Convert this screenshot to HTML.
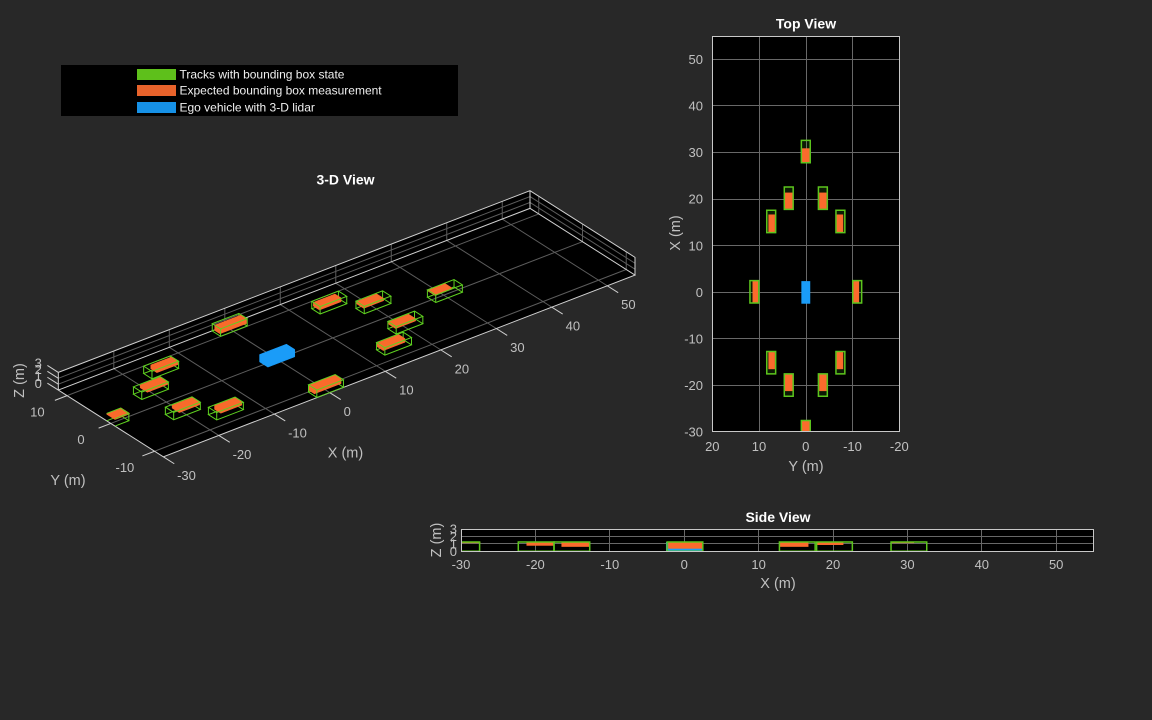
<!DOCTYPE html>
<html><head><meta charset="utf-8"><style>
html,body{margin:0;padding:0;background:#282828;}
svg{display:block}
text{font-family:"Liberation Sans",Arial,sans-serif;}
.t{fill:#c0c0c0;font-size:13px}
.lab{fill:#c0c0c0;font-size:14.5px}
.ttl{fill:#ffffff;font-size:14px;font-weight:bold}
.lg{fill:#f0f0f0;font-size:12px}
path,rect,line{vector-effect:non-scaling-stroke}
.g{fill:none;stroke:#5fd120;stroke-width:1}
.o{fill:#f96a2b;stroke:#f96a2b;stroke-width:0.5}
.gf{fill:rgba(95,200,30,0.13);stroke:none}
.gs{fill:none;stroke:#5cc51d;stroke-width:1.5}
.of{fill:#fb6b2c;stroke:none}
</style></head><body>
<svg width="1152" height="720" viewBox="0 0 1152 720" xmlns="http://www.w3.org/2000/svg">
<defs>
<clipPath id="tvc"><rect x="712" y="36" width="188" height="396"/></clipPath>
<clipPath id="svc"><rect x="461" y="529" width="633" height="23"/></clipPath>
</defs>
<rect width="1152" height="720" fill="#282828"/>

<!-- Legend -->
<rect x="61" y="65" width="397" height="51" fill="#000"/>
<rect x="137" y="69" width="39" height="11" fill="#5ec01b"/>
<rect x="137" y="85" width="39" height="11" fill="#e8632b"/>
<rect x="137" y="102" width="39" height="11" fill="#1691e6"/>
<text class="lg" x="179.5" y="78.5">Tracks with bounding box state</text>
<text class="lg" x="179.5" y="94.5">Expected bounding box measurement</text>
<text class="lg" x="179.5" y="111.5">Ego vehicle with 3-D lidar</text>

<!-- 3-D View -->
<text class="ttl" x="345.5" y="184.5" text-anchor="middle">3-D View</text>
<g transform="matrix(5.549,-2.138,-4.375,-2.779,277.3,359.3)">
<path d="M-30 -12H55V12H-30Z" fill="#000"/>
<path d="M-30 12H55L58.126 15.9645H-26.874Z" fill="#000"/>
<path d="M55 -12V12L58.126 15.9645V-8.0355Z" fill="#000"/>
<path fill="none" stroke="#5c5c5c" stroke-width="1" d="M-20 -12V12M-10 -12V12M0 -12V12M10 -12V12M20 -12V12M30 -12V12M40 -12V12M50 -12V12M-30 -10H55M-30 0H55M-30 10H55M-20 12l3.126 3.9645M-10 12l3.126 3.9645M0 12l3.126 3.9645M10 12l3.126 3.9645M20 12l3.126 3.9645M30 12l3.126 3.9645M40 12l3.126 3.9645M50 12l3.126 3.9645M-28.958 13.3215H56.042M-27.916 14.643H57.084M55 -10l3.126 3.9645M55 0l3.126 3.9645M55 10l3.126 3.9645M56.042 -10.6785V13.3215M57.084 -9.357V14.643"/>
<path fill="none" stroke="#d0d0d0" stroke-width="1" d="M-30 12V-12H55V12H-30M55 12l3.126 3.9645M-30 12l3.126 3.9645H58.126V-8.0355L55 -12M-30 -12v-2.5M-20 -12v-2.5M-10 -12v-2.5M0 -12v-2.5M10 -12v-2.5M20 -12v-2.5M30 -12v-2.5M40 -12v-2.5M50 -12v-2.5M-30 -10h-2.2M-30 0h-2.2M-30 10h-2.2M-30 12v2.5M-28.958 13.3215v2.5M-27.916 14.643v2.5M-26.874 15.9645v2.5"/>

<!-- car 1 -->
<path class="g" d="M27.8 -0.95h4.8v1.9h-4.8ZM32.6 0.95l1.3025 1.652"/>
<path class="o" transform="translate(1.1462,1.4537)" d="M27.8 -0.8h3.1l0.1563 0.1983v1.75h-3.1l-0.1563 -0.1983Z"/>
<rect class="g" transform="translate(1.3025,1.652)" x="27.8" y="-0.95" width="4.8" height="1.9"/>
<path class="g" d="M27.8 -0.95l1.3025 1.652M32.6 -0.95l1.3025 1.652M27.8 0.95l1.3025 1.652"/>
<!-- car 2 -->
<path class="g" d="M17.8 2.7h4.8v1.9h-4.8ZM22.6 4.6l1.3025 1.652"/>
<path class="o" transform="translate(0.8857,1.1233)" d="M17.8 2.83h3.6l0.4168 0.5287v1.62h-3.6l-0.4168 -0.5287Z"/>
<rect class="g" transform="translate(1.3025,1.652)" x="17.8" y="2.7" width="4.8" height="1.9"/>
<path class="g" d="M17.8 2.7l1.3025 1.652M22.6 2.7l1.3025 1.652M17.8 4.6l1.3025 1.652"/>
<!-- car 4 -->
<path class="g" d="M12.8 6.45h4.8v1.9h-4.8ZM17.6 8.35l1.3025 1.652"/>
<path class="o" transform="translate(0.6252,0.7929)" d="M12.8 6.6h3.9l0.6773 0.8591v1.4h-3.9l-0.6773 -0.8591Z"/>
<rect class="g" transform="translate(1.3025,1.652)" x="12.8" y="6.45" width="4.8" height="1.9"/>
<path class="g" d="M12.8 6.45l1.3025 1.652M17.6 6.45l1.3025 1.652M12.8 8.35l1.3025 1.652"/>
<!-- car 3 -->
<path class="g" d="M17.8 -4.6h4.8v1.9h-4.8ZM22.6 -2.7l1.3025 1.652"/>
<path class="o" transform="translate(0.8857,1.1233)" d="M17.8 -4.47h3.6l0.4168 0.5287v1.62h-3.6l-0.4168 -0.5287Z"/>
<rect class="g" transform="translate(1.3025,1.652)" x="17.8" y="-4.6" width="4.8" height="1.9"/>
<path class="g" d="M17.8 -4.6l1.3025 1.652M22.6 -4.6l1.3025 1.652M17.8 -2.7l1.3025 1.652"/>
<!-- car 6 -->
<path class="g" d="M-2.3 10.05h4.8v1.9h-4.8ZM2.5 11.95l1.3025 1.652"/>
<path class="o" transform="translate(0.3647,0.4625)" d="M-2.3 10.2h4.8l0.9378 1.1895v1.2h-4.8l-0.9378 -1.1895Z"/>
<rect class="g" transform="translate(1.3025,1.652)" x="-2.3" y="10.05" width="4.8" height="1.9"/>
<path class="g" d="M-2.3 10.05l1.3025 1.652M2.5 10.05l1.3025 1.652M-2.3 11.95l1.3025 1.652"/>
<!-- car 5 -->
<path class="g" d="M12.8 -8.35h4.8v1.9h-4.8ZM17.6 -6.45l1.3025 1.652"/>
<path class="o" transform="translate(0.6252,0.7929)" d="M12.8 -8.0h3.9l0.6773 0.8591v1.42h-3.9l-0.6773 -0.8591Z"/>
<rect class="g" transform="translate(1.3025,1.652)" x="12.8" y="-8.35" width="4.8" height="1.9"/>
<path class="g" d="M12.8 -8.35l1.3025 1.652M17.6 -8.35l1.3025 1.652M12.8 -6.45l1.3025 1.652"/>
<!-- ego -->
<path fill="#1a9cf8" stroke="#1a9cf8" stroke-width="0.5" d="M-2.45 -0.95h4.85l1.3025 1.652v1.9h-4.85l-1.3025 -1.652Z"/>
<!-- car 9 -->
<path class="g" d="M-17.5 6.45h4.8v1.9h-4.8ZM-12.7 8.35l1.3025 1.652"/>
<path class="o" transform="translate(0.6252,0.7929)" d="M-16.5 6.6h3.8l0.6773 0.8591v1.4h-3.8l-0.6773 -0.8591Z"/>
<rect class="g" transform="translate(1.3025,1.652)" x="-17.5" y="6.45" width="4.8" height="1.9"/>
<path class="g" d="M-17.5 6.45l1.3025 1.652M-12.7 6.45l1.3025 1.652M-17.5 8.35l1.3025 1.652"/>
<!-- car 7 -->
<path class="g" d="M-2.3 -11.95h4.8v1.9h-4.8ZM2.5 -10.05l1.3025 1.652"/>
<path class="o" transform="translate(0.3647,0.4625)" d="M-2.3 -11.4h4.8l0.9378 1.1895v1.3h-4.8l-0.9378 -1.1895Z"/>
<rect class="g" transform="translate(1.3025,1.652)" x="-2.3" y="-11.95" width="4.8" height="1.9"/>
<path class="g" d="M-2.3 -11.95l1.3025 1.652M2.5 -11.95l1.3025 1.652M-2.3 -10.05l1.3025 1.652"/>
<!-- car 11 -->
<path class="g" d="M-22.3 2.7h4.8v1.9h-4.8ZM-17.5 4.6l1.3025 1.652"/>
<path class="o" transform="translate(0.7815,0.9911)" d="M-21.2 2.83h3.7l0.521 0.6609v1.62h-3.7l-0.521 -0.6609Z"/>
<rect class="g" transform="translate(1.3025,1.652)" x="-22.3" y="2.7" width="4.8" height="1.9"/>
<path class="g" d="M-22.3 2.7l1.3025 1.652M-17.5 2.7l1.3025 1.652M-22.3 4.6l1.3025 1.652"/>
<!-- car 10 -->
<path class="g" d="M-17.5 -8.35h4.8v1.9h-4.8ZM-12.7 -6.45l1.3025 1.652"/>
<path class="o" transform="translate(0.6252,0.7929)" d="M-16.5 -8.0h3.8l0.6773 0.8591v1.42h-3.8l-0.6773 -0.8591Z"/>
<rect class="g" transform="translate(1.3025,1.652)" x="-17.5" y="-8.35" width="4.8" height="1.9"/>
<path class="g" d="M-17.5 -8.35l1.3025 1.652M-12.7 -8.35l1.3025 1.652M-17.5 -6.45l1.3025 1.652"/>
<!-- car 12 -->
<path class="g" d="M-22.3 -4.6h4.8v1.9h-4.8ZM-17.5 -2.7l1.3025 1.652"/>
<path class="o" transform="translate(0.7815,0.9911)" d="M-21.2 -4.47h3.7l0.521 0.6609v1.62h-3.7l-0.521 -0.6609Z"/>
<rect class="g" transform="translate(1.3025,1.652)" x="-22.3" y="-4.6" width="4.8" height="1.9"/>
<path class="g" d="M-22.3 -4.6l1.3025 1.652M-17.5 -4.6l1.3025 1.652M-22.3 -2.7l1.3025 1.652"/>
<!-- car 13 (clipped) -->
<path class="g" d="M-30 -0.95H-27.5V0.95H-30M-27.5 0.95l1.3025 1.652"/>
<path class="o" transform="translate(1.1462,1.4537)" d="M-30 -0.95h2.6l0.1563 0.1983v1.9h-2.6l-0.1563 -0.1983Z"/>
<path class="g" transform="translate(1.3025,1.652)" d="M-30 -0.95H-27.5V0.95H-30"/>
<path class="g" d="M-27.5 -0.95l1.3025 1.652"/>
</g>
<!-- 3D tick labels -->
<text class="t" x="177.1" y="480">-30</text>
<text class="t" x="232.6" y="458.8">-20</text>
<text class="t" x="288.1" y="437.4">-10</text>
<text class="t" x="343.6" y="416">0</text>
<text class="t" x="399.1" y="394.7">10</text>
<text class="t" x="454.6" y="373.3">20</text>
<text class="t" x="510.1" y="352">30</text>
<text class="t" x="565.6" y="330.5">40</text>
<text class="t" x="621.1" y="309.2">50</text>
<text class="t" x="37.4" y="416.6" text-anchor="middle">10</text>
<text class="t" x="81" y="444.2" text-anchor="middle">0</text>
<text class="t" x="124.9" y="472" text-anchor="middle">-10</text>
<text class="t" x="38.3" y="367.3" text-anchor="middle">3</text>
<text class="t" x="38.3" y="374.2" text-anchor="middle">2</text>
<text class="t" x="38.3" y="381.1" text-anchor="middle">1</text>
<text class="t" x="38.3" y="388" text-anchor="middle">0</text>
<text class="lab" x="345.5" y="457.5" text-anchor="middle">X (m)</text>
<text class="lab" x="68" y="485" text-anchor="middle">Y (m)</text>
<text class="lab" transform="translate(24,380.5) rotate(-90)" text-anchor="middle">Z (m)</text>

<!-- Top View -->
<text class="ttl" x="806" y="28.5" text-anchor="middle">Top View</text>
<rect x="712.5" y="36.5" width="187" height="395" fill="#000"/>
<path fill="none" stroke="#686868" stroke-width="1" d="M759.5 36.5V431.5M806.5 36.5V431.5M852.5 36.5V431.5M712.5 59.5H899.5M712.5 105.5H899.5M712.5 152.5H899.5M712.5 199.5H899.5M712.5 245.5H899.5M712.5 292.5H899.5M712.5 338.5H899.5M712.5 385.5H899.5"/>
<g clip-path="url(#tvc)"><g transform="matrix(0,-4.66,-4.675,0,805.8,292.3)">
<rect class="gf" x="27.8" y="-0.95" width="4.8" height="1.9"/>
<rect class="gf" x="17.8" y="2.7" width="4.8" height="1.9"/>
<rect class="gf" x="17.8" y="-4.6" width="4.8" height="1.9"/>
<rect class="gf" x="12.8" y="6.45" width="4.8" height="1.9"/>
<rect class="gf" x="12.8" y="-8.35" width="4.8" height="1.9"/>
<rect class="gf" x="-2.3" y="10.05" width="4.8" height="1.9"/>
<rect class="gf" x="-2.3" y="-11.95" width="4.8" height="1.9"/>
<rect class="gf" x="-17.5" y="6.45" width="4.8" height="1.9"/>
<rect class="gf" x="-17.5" y="-8.35" width="4.8" height="1.9"/>
<rect class="gf" x="-22.3" y="2.7" width="4.8" height="1.9"/>
<rect class="gf" x="-22.3" y="-4.6" width="4.8" height="1.9"/>
<rect class="gf" x="-32.3" y="-0.95" width="4.8" height="1.9"/>
<rect fill="#1a9cf8" x="-2.45" y="-0.95" width="4.85" height="1.9"/>
<rect class="of" x="27.8" y="-0.8" width="3.1" height="1.75"/>
<rect class="of" x="17.8" y="2.83" width="3.6" height="1.62"/>
<rect class="of" x="17.8" y="-4.47" width="3.6" height="1.62"/>
<rect class="of" x="12.8" y="6.6" width="3.9" height="1.4"/>
<rect class="of" x="12.8" y="-8.0" width="3.9" height="1.42"/>
<rect class="of" x="-2.3" y="10.2" width="4.8" height="1.2"/>
<rect class="of" x="-2.3" y="-11.4" width="4.8" height="1.3"/>
<rect class="of" x="-16.5" y="6.6" width="3.8" height="1.4"/>
<rect class="of" x="-16.5" y="-8.0" width="3.8" height="1.42"/>
<rect class="of" x="-21.2" y="2.83" width="3.7" height="1.62"/>
<rect class="of" x="-21.2" y="-4.47" width="3.7" height="1.62"/>
<rect class="of" x="-30" y="-0.95" width="2.6" height="1.9"/>
<rect class="gs" x="27.8" y="-0.95" width="4.8" height="1.9"/>
<rect class="gs" x="17.8" y="2.7" width="4.8" height="1.9"/>
<rect class="gs" x="17.8" y="-4.6" width="4.8" height="1.9"/>
<rect class="gs" x="12.8" y="6.45" width="4.8" height="1.9"/>
<rect class="gs" x="12.8" y="-8.35" width="4.8" height="1.9"/>
<rect class="gs" x="-2.3" y="10.05" width="4.8" height="1.9"/>
<rect class="gs" x="-2.3" y="-11.95" width="4.8" height="1.9"/>
<rect class="gs" x="-17.5" y="6.45" width="4.8" height="1.9"/>
<rect class="gs" x="-17.5" y="-8.35" width="4.8" height="1.9"/>
<rect class="gs" x="-22.3" y="2.7" width="4.8" height="1.9"/>
<rect class="gs" x="-22.3" y="-4.6" width="4.8" height="1.9"/>
<rect class="gs" x="-32.3" y="-0.95" width="4.8" height="1.9"/>
</g></g>
<rect x="712.5" y="36.5" width="187" height="395" fill="none" stroke="#c8c8c8" stroke-width="1"/>
<text class="t" x="703" y="63.9" text-anchor="end">50</text>
<text class="t" x="703" y="110.5" text-anchor="end">40</text>
<text class="t" x="703" y="157.1" text-anchor="end">30</text>
<text class="t" x="703" y="203.7" text-anchor="end">20</text>
<text class="t" x="703" y="250.3" text-anchor="end">10</text>
<text class="t" x="703" y="296.9" text-anchor="end">0</text>
<text class="t" x="703" y="343.5" text-anchor="end">-10</text>
<text class="t" x="703" y="390.1" text-anchor="end">-20</text>
<text class="t" x="703" y="436.7" text-anchor="end">-30</text>
<text class="t" x="712.3" y="451.1" text-anchor="middle">20</text>
<text class="t" x="759" y="451.1" text-anchor="middle">10</text>
<text class="t" x="805.8" y="451.1" text-anchor="middle">0</text>
<text class="t" x="852.5" y="451.1" text-anchor="middle">-10</text>
<text class="t" x="899.3" y="451.1" text-anchor="middle">-20</text>
<text class="lab" x="806" y="471" text-anchor="middle">Y (m)</text>
<text class="lab" transform="translate(680,233) rotate(-90)" text-anchor="middle">X (m)</text>

<!-- Side View -->
<text class="ttl" x="778" y="522" text-anchor="middle">Side View</text>
<rect x="461.5" y="529.5" width="632" height="22" fill="#000"/>
<path fill="none" stroke="#686868" stroke-width="1" d="M535.5 529.5V551.5M609.5 529.5V551.5M684.5 529.5V551.5M758.5 529.5V551.5M833.5 529.5V551.5M907.5 529.5V551.5M981.5 529.5V551.5M1056.5 529.5V551.5M461.5 536.5H1093.5M461.5 543.5H1093.5"/>
<g clip-path="url(#svc)"><g transform="matrix(7.44,0,0,-7.43,684.2,551.3)">
<rect fill="#1a9cf8" x="-2.45" y="0" width="4.85" height="1.25"/>
<rect class="of" x="27.8" y="1.1" width="3.1" height="0.15"/>
<rect class="of" x="17.8" y="0.85" width="3.6" height="0.4"/>
<rect class="of" x="12.8" y="0.6" width="3.9" height="0.65"/>
<rect class="of" x="-2.15" y="0.35" width="4.65" height="0.9"/>
<rect class="of" x="-16.5" y="0.6" width="3.8" height="0.65"/>
<rect class="of" x="-21.2" y="0.75" width="3.7" height="0.5"/>
<rect class="of" x="-30" y="1.1" width="2.6" height="0.15"/>
<rect class="gs" x="27.8" y="0" width="4.8" height="1.25"/>
<rect class="gs" x="17.8" y="0" width="4.8" height="1.25"/>
<rect class="gs" x="12.8" y="0" width="4.8" height="1.25"/>
<rect class="gs" x="-2.3" y="0" width="4.8" height="1.25"/>
<rect class="gs" x="-17.5" y="0" width="4.8" height="1.25"/>
<rect class="gs" x="-22.3" y="0" width="4.8" height="1.25"/>
<rect class="gs" x="-32.3" y="0" width="4.8" height="1.25"/>
</g></g>
<rect x="461.5" y="529.5" width="632" height="22" fill="none" stroke="#c8c8c8" stroke-width="1"/>
<text class="t" x="457" y="533.6" text-anchor="end">3</text>
<text class="t" x="457" y="541" text-anchor="end">2</text>
<text class="t" x="457" y="548.5" text-anchor="end">1</text>
<text class="t" x="457" y="555.9" text-anchor="end">0</text>
<text class="t" x="461" y="569.1" text-anchor="middle">-30</text>
<text class="t" x="535.4" y="569.1" text-anchor="middle">-20</text>
<text class="t" x="609.8" y="569.1" text-anchor="middle">-10</text>
<text class="t" x="684.2" y="569.1" text-anchor="middle">0</text>
<text class="t" x="758.6" y="569.1" text-anchor="middle">10</text>
<text class="t" x="833" y="569.1" text-anchor="middle">20</text>
<text class="t" x="907.4" y="569.1" text-anchor="middle">30</text>
<text class="t" x="981.8" y="569.1" text-anchor="middle">40</text>
<text class="t" x="1056.2" y="569.1" text-anchor="middle">50</text>
<text class="lab" x="778" y="588" text-anchor="middle">X (m)</text>
<text class="lab" transform="translate(441,540) rotate(-90)" text-anchor="middle">Z (m)</text>
</svg>
</body></html>
